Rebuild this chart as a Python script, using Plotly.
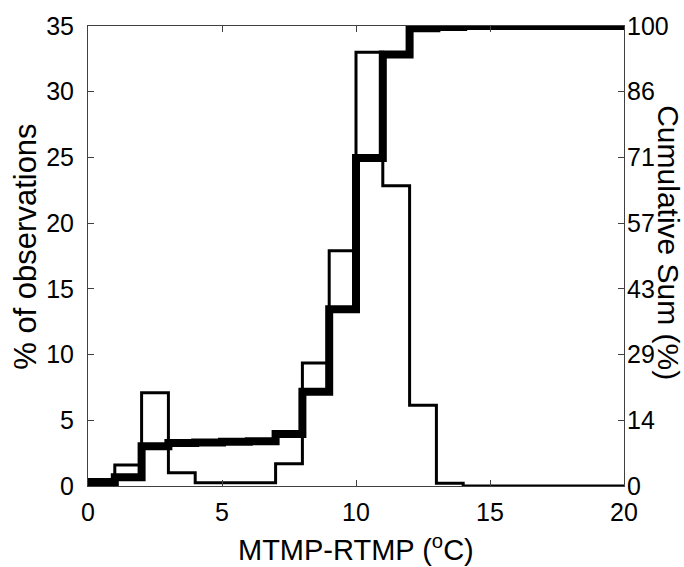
import plotly.graph_objects as go

# Bin edges (deg C)
bin_edges = list(range(0, 21))
# % of observations per 1-degree bin (thin stairs, left axis)
hist_pct = [0.5, 1.6, 7.1, 1.0, 0.25, 0.25, 0.25, 1.7, 9.35, 17.9,
            33.0, 22.85, 6.15, 0.2, 0.0, 0.0, 0.0, 0.0, 0.0, 0.0]
# Cumulative sum % per bin (thick stairs, right axis)
cum_pct = [0.55, 1.9, 8.65, 9.35, 9.45, 9.6, 9.75, 11.3, 20.5, 38.4,
           71.3, 93.8, 99.5, 99.8, 100.0, 100.0, 100.0, 100.0, 100.0, 100.0]

x_ticks = [0, 5, 10, 15, 20]
y_ticks = [0, 5, 10, 15, 20, 25, 30, 35]
y2_tickvals = [0, 100/7, 200/7, 300/7, 400/7, 500/7, 600/7, 100]
y2_ticktext = ["0", "14", "29", "43", "57", "71", "86", "100"]

FONT = "Liberation Sans, Arial, sans-serif"
AX = "#404040"

fig = go.Figure()
fig.add_trace(go.Scatter(
    x=bin_edges, y=hist_pct + [hist_pct[-1]], mode="lines",
    line=dict(shape="hv", color="black", width=3), yaxis="y", showlegend=False))
fig.add_trace(go.Scatter(
    x=bin_edges, y=cum_pct + [cum_pct[-1]], mode="lines",
    line=dict(shape="hv", color="black", width=8), yaxis="y2", showlegend=False))

fig.update_layout(
    width=684, height=567,
    margin=dict(l=88, r=60, t=22, b=81),
    paper_bgcolor="white", plot_bgcolor="white",
    font=dict(family=FONT, size=25, color="black"),
    xaxis=dict(range=[0, 20], tickvals=x_ticks, ticks="inside", ticklen=6,
               tickcolor=AX, showline=True, linecolor=AX, linewidth=1,
               mirror="ticks", showgrid=False, zeroline=False,
               ticklabelstandoff=4, tickfont=dict(size=25)),
    yaxis=dict(range=[0, 35], tickvals=y_ticks, ticks="inside", ticklen=6,
               tickcolor=AX, showline=True, linecolor=AX, linewidth=1,
               mirror="ticks", showgrid=False, zeroline=False,
               ticklabelstandoff=8, tickfont=dict(size=25)),
    yaxis2=dict(range=[0, 100], tickvals=y2_tickvals, ticktext=y2_ticktext,
                overlaying="y", side="right", ticks="", showline=False,
                showgrid=False, zeroline=False, ticklabelstandoff=2,
                tickfont=dict(size=25)),
    annotations=[
        dict(text="MTMP-RTMP (<sup>o</sup>C)", xref="paper", yref="paper",
             x=0.5, y=(486 - 549) / 464, xanchor="center", yanchor="middle",
             showarrow=False, font=dict(size=29)),
        dict(text="% of observations", xref="paper", yref="paper",
             x=(26 - 88) / 536, y=0.52, xanchor="center", yanchor="middle",
             textangle=-90, showarrow=False, font=dict(size=31)),
        dict(text="Cumulative Sum (%)", xref="paper", yref="paper",
             x=(669 - 88) / 536, y=0.53, xanchor="center", yanchor="middle",
             textangle=90, showarrow=False, font=dict(size=30)),
    ],
)

fig.write_html("out.html")
